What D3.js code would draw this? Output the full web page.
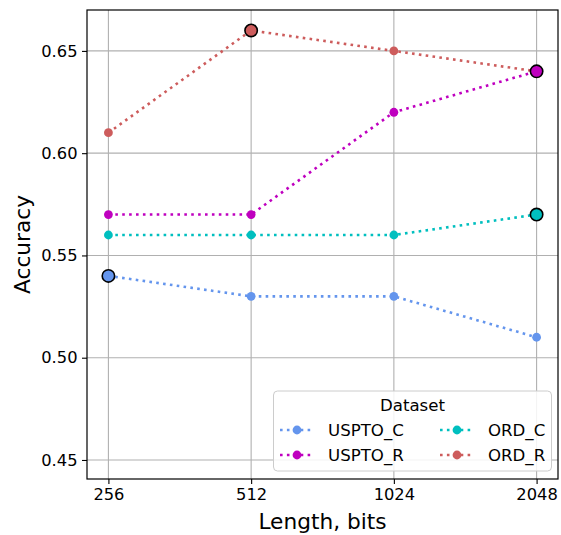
<!DOCTYPE html>
<html>
<head>
<meta charset="utf-8">
<script src="https://cdn.jsdelivr.net/npm/d3@7/dist/d3.min.js"></script>
<style>
  html, body { margin: 0; padding: 0; background: #fff; }
  svg { display: block; font-family: "DejaVu Sans", sans-serif; }
</style>
</head>
<body>
<svg id="chart" width="561" height="535"></svg>
<script>
// Sequence lengths (bits) on a log2 axis
const lengths = [256, 512, 1024, 2048];
const yTicks = [0.45, 0.50, 0.55, 0.60, 0.65];

// Accuracy per dataset at each length
const usptoC = [0.54, 0.53, 0.53, 0.51];
const usptoR = [0.57, 0.57, 0.62, 0.64];
const ordC   = [0.56, 0.56, 0.56, 0.57];
const ordR   = [0.61, 0.66, 0.65, 0.64];

const seriesNames  = ["USPTO_C", "USPTO_R", "ORD_C", "ORD_R"];
const seriesColors = ["#6495ED", "#BF00BF", "#00BFBF", "#CD5C5C"];
const seriesValues = [usptoC, usptoR, ordC, ordR];

const series = seriesNames.map((name, i) => ({
  name, color: seriesColors[i],
  points: lengths.map((len, j) => ({ len, acc: seriesValues[i][j] }))
}));

const svg = d3.select("#chart");
const plot = { left: 87, right: 558, top: 10, bottom: 479 };

// log2 scale with 5% margin on each side of the exponent range
const lo = Math.log2(d3.min(lengths)), hi = Math.log2(d3.max(lengths));
const pad = (hi - lo) * 0.05;
const x = d3.scaleLog().base(2)
  .domain([Math.pow(2, lo - pad), Math.pow(2, hi + pad)])
  .range([plot.left, plot.right]);
const y = d3.scaleLinear().domain([0.4407, 0.67]).range([plot.bottom, plot.top]);

// grid
const grid = svg.append("g").attr("stroke", "#b0b0b0").attr("stroke-width", 1.1);
lengths.forEach(v => grid.append("line")
  .attr("x1", x(v)).attr("x2", x(v)).attr("y1", plot.top).attr("y2", plot.bottom));
yTicks.forEach(v => grid.append("line")
  .attr("x1", plot.left).attr("x2", plot.right).attr("y1", y(v)).attr("y2", y(v)));

// axes
const xAxis = d3.axisBottom(x).tickValues(lengths).tickFormat(d3.format("d"))
  .tickSizeInner(5).tickSizeOuter(0).tickPadding(4);
const yAxis = d3.axisLeft(y).tickValues(yTicks).tickFormat(d3.format(".2f"))
  .tickSizeInner(5).tickSizeOuter(0).tickPadding(4.5);

const gx = svg.append("g").attr("transform", `translate(0,${plot.bottom})`).call(xAxis);
const gy = svg.append("g").attr("transform", `translate(${plot.left},0)`).call(yAxis);
[gx, gy].forEach(g => {
  g.select(".domain").remove();
  g.selectAll(".tick line").attr("stroke", "#000").attr("stroke-width", 1.1);
  g.selectAll(".tick text").attr("fill", "#000")
    .style("font-family", "DejaVu Sans").style("font-size", "16.3px");
});

// series lines and markers
const line = d3.line().x(d => x(d.len)).y(d => y(d.acc));
const gs = svg.append("g");
series.forEach(s => {
  gs.append("path").datum(s.points)
    .attr("d", line).attr("fill", "none")
    .attr("stroke", s.color).attr("stroke-width", 2.6)
    .attr("stroke-dasharray", "2.6,4.3");
  gs.selectAll(null).data(s.points).enter().append("circle")
    .attr("cx", d => x(d.len)).attr("cy", d => y(d.acc))
    .attr("r", 4.4).attr("fill", s.color);
});

// best accuracy of each dataset, outlined
series.forEach(s => {
  const best = s.points.reduce((a, b) => (b.acc > a.acc ? b : a));
  gs.append("circle")
    .attr("cx", x(best.len)).attr("cy", y(best.acc))
    .attr("r", 6.2).attr("fill", s.color)
    .attr("stroke", "#000").attr("stroke-width", 1.6);
});

// frame
svg.append("rect")
  .attr("x", plot.left).attr("y", plot.top)
  .attr("width", plot.right - plot.left).attr("height", plot.bottom - plot.top)
  .attr("fill", "none").attr("stroke", "#000").attr("stroke-width", 1.2);

// axis titles
svg.append("text")
  .attr("x", (plot.left + plot.right) / 2).attr("y", 529)
  .attr("text-anchor", "middle").style("font-size", "21.7px").text("Length, bits");
svg.append("text")
  .attr("transform", `translate(30,${(plot.top + plot.bottom) / 2}) rotate(-90)`)
  .attr("text-anchor", "middle").style("font-size", "21.7px").text("Accuracy");

// legend
const lg = svg.append("g").attr("transform", "translate(273.5,391)");
lg.append("rect").attr("width", 278).attr("height", 80).attr("rx", 4)
  .attr("fill", "#fff").attr("fill-opacity", 0.85)
  .attr("stroke", "#cccccc").attr("stroke-width", 1);
lg.append("text").attr("x", 139).attr("y", 20).attr("text-anchor", "middle")
  .style("font-size", "16.6px").text("Dataset");
series.forEach((s, i) => {
  const col = Math.floor(i / 2), row = i % 2;
  const gx0 = 6.5 + col * 160, gy0 = 39 + row * 25;
  const item = lg.append("g").attr("transform", `translate(${gx0},${gy0})`);
  item.append("line").attr("x1", 0).attr("x2", 34).attr("y1", 0).attr("y2", 0)
    .attr("stroke", s.color).attr("stroke-width", 2.6).attr("stroke-dasharray", "2.6,4.3");
  item.append("circle").attr("cx", 17).attr("cy", 0).attr("r", 4.4).attr("fill", s.color);
  item.append("text").attr("x", 48).attr("y", 0).attr("dy", "0.36em")
    .style("font-size", "16.6px").text(s.name);
});
</script>
</body>
</html>
